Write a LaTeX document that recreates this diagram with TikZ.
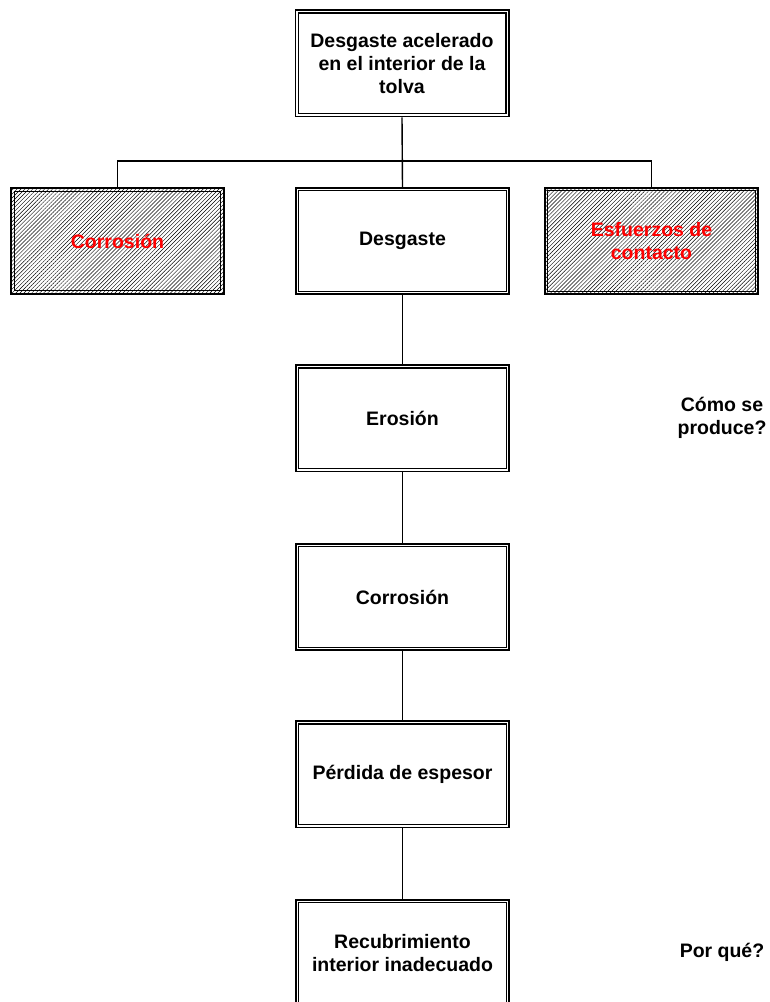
\documentclass[tikz,border=0pt]{standalone}
\usepackage{fontspec}
\setmainfont{Liberation Sans}
\usetikzlibrary{patterns.meta}
\tikzset{
  caja/.style={draw, line width=1.8pt, minimum width=213.2pt, minimum height=106.2pt,
    align=center, font=\bfseries\fontsize{19.5}{23}\selectfont, inner sep=2pt},
  rayada/.style={caja, text=red,
    pattern={Lines[angle=45,distance=2.8pt,line width=0.45pt]}},
  marco/.style={line width=1.2pt},
  linea/.style={line width=1.4pt},
  pregunta/.style={align=center, font=\bfseries\fontsize{19.5}{23}\selectfont}
}
\begin{document}
\begin{tikzpicture}[x=1pt,y=1pt]
% Arbol de causas del desgaste de la tolva
\useasboundingbox (0,0) rectangle (769,1002);
\node[caja] (tolva) at (402,938.5) {Desgaste acelerado\\en el interior de la\\tolva};
\node[rayada] (corrA) at (117.5,761) {Corrosión};
\node[caja] (desg) at (402.5,761) {Desgaste};
\node[rayada] (esf) at (651.5,761) {Esfuerzos de\\contacto};
\node[caja] (eros) at (402.5,583.5) {Erosión};
\node[caja] (corrB) at (402.5,405) {Corrosión};
\node[caja] (perd) at (402.5,227.5) {Pérdida de espesor};
\node[caja] (recub) at (402.5,49) {Recubrimiento\\interior inadecuado};
\node[pregunta] (como) at (722,584) {Cómo se\\produce?};
\node[pregunta] (porque) at (722,50) {Por qué?};
% segundo trazo del marco doble
\foreach \n in {tolva,corrA,desg,esf,eros,corrB,perd,recub}
  \draw[marco] ([shift={(3.6,3.6)}]\n.south west) rectangle ([shift={(-3.6,-3.6)}]\n.north east);
% uniones
\coordinate (barra) at (402,841);
\draw[linea] (tolva.south) -- (desg.north);
\draw[linea] (corrA.north) |- (barra) -| (esf.north);
\draw[linea] (desg.south) -- (eros.north);
\draw[linea] (eros.south) -- (corrB.north);
\draw[linea] (corrB.south) -- (perd.north);
\draw[linea] (perd.south) -- (recub.north);
\end{tikzpicture}
\end{document}
